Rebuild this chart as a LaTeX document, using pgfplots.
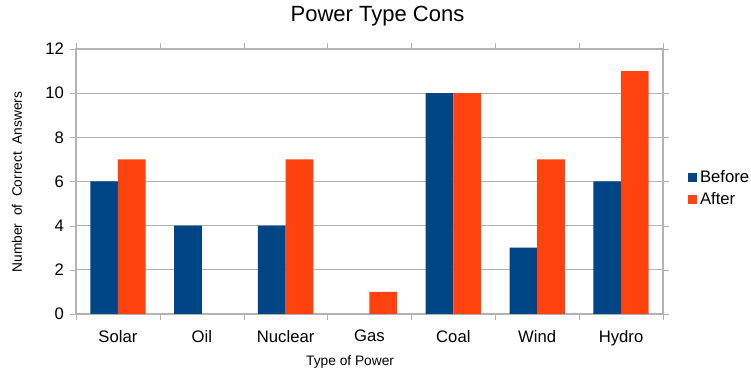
\documentclass[border=0pt]{standalone}
\usepackage{fontspec}
\setmainfont{Liberation Sans}
\usepackage{pgfplots}
\pgfplotsset{compat=1.18}

\definecolor{before}{HTML}{004586}
\definecolor{after}{HTML}{FF420E}
\definecolor{gridgray}{HTML}{B3B3B3}

\begin{document}
\begin{tikzpicture}[x=0.75pt,y=0.75pt]
% page frame: 751 x 375 units
\path[use as bounding box] (0,0) rectangle (751,375);
\node[font=\fontsize{16.5}{18}\selectfont] at (377.5,359) {Power Type Cons};
\begin{axis}[
  at={(57pt,45.75pt)}, anchor=south west,
  scale only axis,
  width=440.25pt, height=198.75pt,
  xmin=-0.5, xmax=6.5,
  ymin=0, ymax=12,
  ytick={0,2,...,12},
  xtick={0,...,6},
  xticklabels={Solar,Oil,Nuclear,Gas,Coal,Wind,Hydro},
  minor xtick={-0.5,0.5,...,6.5},
  major x tick style={draw=none},
  minor x tick style={gridgray},
  y tick style={gridgray},
  tick align=outside,
  major tick length=4.5pt,
  minor tick length=4.5pt,
  ymajorgrids,
  grid style={gridgray, line width=0.9pt},
  axis line style={gridgray, line width=0.9pt},
  /pgf/number format/assume math mode=true,
  ticklabel style={font=\fontsize{12.5}{13}\selectfont},
  xticklabel style={yshift=-4pt},
  yticklabel style={xshift=-1pt},
  xlabel={Type of Power},
  ylabel={Number\hspace{0.55em}of\hspace{0.55em}Correct\hspace{0.55em}Answers},
  label style={font=\fontsize{10.3}{12}\selectfont},
  xlabel style={at={(axis description cs:0.467,-0.181)}, anchor=center},
  ylabel style={at={(axis description cs:-0.1005,0.498)}, anchor=center, rotate=0},
  legend style={draw=none, fill=none, at={(axis description cs:1.036,0.472)}, anchor=west,
    font=\fontsize{12.5}{13}\selectfont, row sep=2pt,
    /tikz/every even column/.append style={column sep=2pt}},
  legend cell align=left,
]
\addplot[ybar, bar width=0.33, bar shift=-0.165, fill=before, draw=none,
  legend image code/.code={\fill[before] (0pt,-3.4pt) rectangle (6.75pt,3.35pt);}]
  coordinates {(0,6) (1,4) (2,4) (4,10) (5,3) (6,6)};
\addlegendentry{Before}
\addplot[ybar, bar width=0.33, bar shift=0.165, fill=after, draw=none,
  legend image code/.code={\fill[after] (0pt,-3.4pt) rectangle (6.75pt,3.35pt);}]
  coordinates {(0,7) (2,7) (3,1) (4,10) (5,7) (6,11)};
\addlegendentry{After}
\end{axis}
\end{tikzpicture}
\end{document}
